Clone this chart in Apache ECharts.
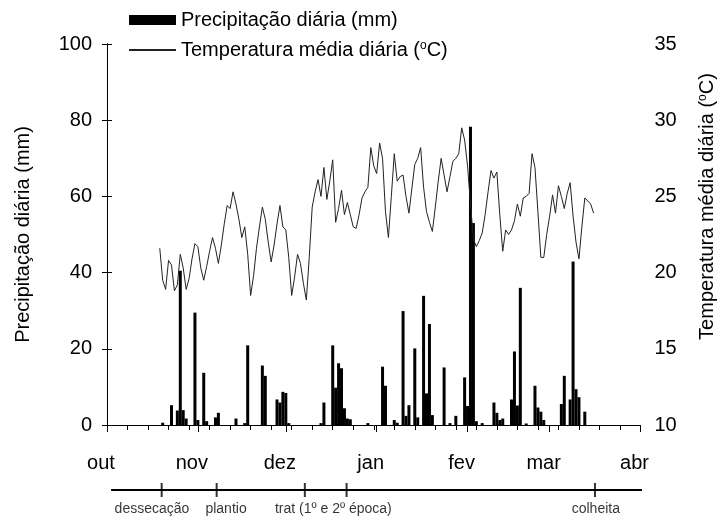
<!DOCTYPE html>
<html>
<head>
<meta charset="utf-8">
<script src="https://cdn.jsdelivr.net/npm/echarts@6/dist/echarts.min.js"></script>
<style>html,body{margin:0;padding:0;background:#fff}#c{width:725px;height:525px}</style>
</head>
<body>
<div id="c"></div>
<script>
// ---- data ----
const monthLabels = ['out', 'nov', 'dez', 'jan', 'fev', 'mar', 'abr'];
const monthStartDays = [0, 31, 61, 92, 123, 151, 182];

const rainName = 'Precipitação diária (mm)';
const tempName = 'Temperatura média diária (°C)';

// daily precipitation (day index counted from 1 Oct)
const rainDays = [19,22,24,25,26,27,30,31,33,34,37,38,44,47,48,53,54,58,59,60,61,62,73,74,77,78,79,80,81,82,83,89,94,95,98,99,101,102,103,105,106,108,109,110,111,115,117,119,122,123,124,125,126,128,132,133,134,135,138,139,140,141,143,146,147,148,149,155,156,158,159,160,161,163];
const rainMm = [0.6,5.2,3.8,40.5,3.9,1.7,29.5,1.3,13.7,1.0,2.0,3.2,1.7,0.5,20.9,15.6,12.9,6.7,5.9,8.7,8.4,0.5,0.5,5.9,20.9,9.8,16.2,14.9,4.4,1.7,1.5,0.5,15.3,10.3,1.3,0.6,29.9,2.4,5.2,20.1,2.0,33.9,8.3,26.5,2.6,15.1,0.5,2.4,12.5,5.0,78.3,53.0,1.0,0.5,5.9,3.2,1.3,1.7,6.7,19.3,5.1,36.0,0.4,10.3,4.6,3.5,1.3,5.5,12.9,6.7,42.9,9.4,7.3,3.5];

// daily mean temperature, starting at day 18
const tempStartDay = 18;
const tempC = [
 21.6,19.5,18.9,20.8,20.5,18.8,19.2,21.2,20.3,18.9,
 19.6,20.9,21.9,21.7,20.3,19.5,20.4,21.4,22.3,21.6,
 20.6,21.8,23.2,24.4,24.2,25.3,24.5,23.5,22.3,23.0,
 21.2,18.5,19.8,21.6,23.0,24.3,23.5,22.0,20.7,21.8,
 23.2,24.4,23.0,22.8,21.0,18.5,19.7,21.2,20.6,19.3,
 18.2,21.0,24.3,25.3,26.1,25.0,26.9,24.8,26.0,27.4,
 23.3,24.2,25.4,23.8,24.6,23.8,23.0,22.9,23.8,24.9,
 25.3,25.6,28.2,27.0,26.5,28.5,27.5,24.0,22.3,25.0,
 27.8,26.0,26.3,26.4,25.0,23.9,25.5,27.1,27.5,28.2,
 25.6,24.0,23.3,22.7,24.3,26.0,27.5,26.4,25.3,26.3,
 27.3,27.5,27.8,29.5,28.7,27.0,24.5,22.2,21.7,22.1,
 22.6,23.8,25.3,26.7,26.2,26.6,23.8,21.4,22.8,22.5,
 22.8,23.4,24.5,23.7,24.9,25.0,25.2,27.8,26.9,24.0,
 21.0,21.0,22.5,23.7,25.1,23.9,25.7,25.0,24.2,25.2,
 25.9,23.7,22.0,20.9,23.0,24.9,24.7,24.5,23.9
];

// timeline of field operations
const timelineSpan = [1.4, 182];
const eventTickDays = [18.6, 37.3, 67.3, 81.5, 166];
const eventLabels = ['dessecação', 'plantio', 'trat (1º e 2º época)', 'colheita'];
const eventLabelDays = [15.3, 40.5, 77, 166.3];

// ---- chart ----
const FONT = 'Liberation Sans, Arial, sans-serif';
const FS = 20;
const rainData = rainDays.map((d, i) => [d, rainMm[i]]);
const tempData = tempC.map((v, i) => [tempStartDay + i, v]);

const chart = echarts.init(document.getElementById('c'), null, {renderer: 'canvas'});
chart.setOption({
  animation: false,
  backgroundColor: '#fff',
  textStyle: {fontFamily: FONT, color: '#000'},
  legend: {
    orient: 'vertical',
    left: 128,
    top: 9,
    padding: 0,
    itemWidth: 47,
    itemHeight: 10,
    itemGap: 8,
    data: [
      {name: rainName, icon: 'rect'},
      {name: tempName, itemStyle: {opacity: 0, borderWidth: 0}}
    ],
    formatter: n => n.replace('°', '{sup|o}'),
    textStyle: {
      fontFamily: FONT, fontSize: FS, color: '#000', lineHeight: 22,
      rich: {sup: {fontFamily: FONT, fontSize: 12, color: '#000', lineHeight: 12, padding: [0, 0, 9, 0]}}
    }
  },
  grid: [
    {left: 107, right: 83, top: 44, bottom: 100},
    {left: 107, right: 83, top: 483, height: 14}
  ],
  xAxis: [
    {
      gridIndex: 0, type: 'value', min: 0, max: 182, interval: 7,
      axisLine: {show: true, lineStyle: {color: '#000', width: 1}},
      axisTick: {show: true, length: 5, lineStyle: {color: '#000'}},
      axisLabel: {show: false},
      splitLine: {show: false}
    },
    {
      gridIndex: 0, type: 'value', min: 0, max: 182, position: 'bottom',
      axisLine: {show: false},
      axisTick: {show: true, customValues: monthStartDays, length: 7, lineStyle: {color: '#000'}},
      axisLabel: {
        show: true, customValues: monthStartDays,
        formatter: v => monthLabels[monthStartDays.indexOf(v)],
        fontFamily: FONT, fontSize: FS, color: '#000', margin: 28,
        padding: [0, 12, 0, 0]
      },
      splitLine: {show: false}
    },
    {gridIndex: 1, type: 'value', min: 0, max: 182, show: false}
  ],
  yAxis: [
    {
      gridIndex: 0, type: 'value', min: 0, max: 100, interval: 20,
      name: rainName, nameLocation: 'middle', nameGap: 74, nameRotate: 90,
      nameTextStyle: {fontFamily: FONT, fontSize: FS, color: '#000'},
      axisLine: {show: true, lineStyle: {color: '#000', width: 1}},
      axisTick: {show: true, length: 5, lineStyle: {color: '#000'}},
      axisLabel: {fontFamily: FONT, fontSize: FS, color: '#000', margin: 15},
      splitLine: {show: false}
    },
    {
      gridIndex: 0, type: 'value', min: 10, max: 35, interval: 5, position: 'right',
      name: tempName.replace('°', '{sup|o}'), nameLocation: 'middle', nameGap: 56, nameRotate: 90,
      nameTextStyle: {
        fontFamily: FONT, fontSize: FS, color: '#000', padding: [0, 0, 0, 56],
        rich: {sup: {fontFamily: FONT, fontSize: 12, color: '#000', padding: [0, 0, 9, 0]}}
      },
      axisLine: {show: true, lineStyle: {color: '#000', width: 1}},
      axisTick: {show: true, length: 5, lineStyle: {color: '#000'}},
      axisLabel: {fontFamily: FONT, fontSize: FS, color: '#000', margin: 14},
      splitLine: {show: false}
    },
    {gridIndex: 1, type: 'value', min: -1, max: 1, show: false}
  ],
  series: [
    {
      name: rainName, type: 'bar', xAxisIndex: 0, yAxisIndex: 0,
      data: rainData, barWidth: 3, itemStyle: {color: '#000'}, z: 2
    },
    {
      name: tempName, type: 'line', xAxisIndex: 0, yAxisIndex: 1,
      data: tempData, symbol: 'none', showSymbol: false,
      lineStyle: {color: '#222', width: 1}, itemStyle: {color: '#222'}, z: 3
    },
    {
      type: 'line', xAxisIndex: 2, yAxisIndex: 2,
      data: timelineSpan.map(d => [d, 0]), symbol: 'none',
      lineStyle: {color: '#000', width: 2}, silent: true
    },
    {
      type: 'scatter', xAxisIndex: 2, yAxisIndex: 2,
      data: eventTickDays.map(d => [d, 0]), symbol: 'rect', symbolSize: [2, 14],
      itemStyle: {color: '#000'}, silent: true
    },
    {
      type: 'scatter', xAxisIndex: 2, yAxisIndex: 2,
      data: eventLabels.map((t, i) => ({name: t, value: [eventLabelDays[i], 0]})),
      symbolSize: 0, itemStyle: {color: 'transparent'},
      label: {show: true, position: 'bottom', distance: 12, formatter: p => p.name,
        fontFamily: FONT, fontSize: 14, color: '#000'},
      silent: true
    }
  ]
});
</script>
</body>
</html>
